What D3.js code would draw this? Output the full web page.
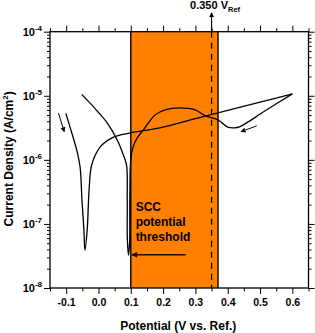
<!doctype html>
<html lang="en">
<head>
<meta charset="utf-8">
<title>Cyclic polarization</title>
<script src="https://cdn.jsdelivr.net/npm/d3@7/dist/d3.min.js"></script>
<style>
  body { margin: 0; background: #fff; }
  text { font-family: "Liberation Sans", Arial, sans-serif; font-weight: bold; fill: #000; }
  .domain { display: none; }
  .tick line { stroke: #000; stroke-width: 1; }
</style>
</head>
<body>
<div id="viz"></div>
<script>
// forward scan (potential V, current density A/cm2)
var fwdE = [-0.101, -0.088, -0.067, -0.057, -0.051, -0.045, -0.042, -0.035, -0.029, -0.021,
            0.005, 0.045, 0.098, 0.19, 0.30, 0.40, 0.50, 0.60];
var fwdI = [5.31e-6, 3.24e-6, 1.41e-6, 7.8e-7, 2.34e-7, 7.9e-8, 3.9e-8, 7.9e-8, 3.4e-7, 8.3e-7,
            1.58e-6, 2.24e-6, 2.63e-6, 3.16e-6, 4.39e-6, 5.9e-6, 7.94e-6, 1.07e-5];
// reverse scan
var revE = [0.60, 0.516, 0.438, 0.42, 0.40, 0.371, 0.33, 0.299, 0.252, 0.206, 0.175, 0.158, 0.138,
            0.12, 0.107, 0.100, 0.097, 0.0965, 0.093, 0.0895, 0.089, 0.087, 0.079, 0.058, 0.028, -0.016, -0.052];
var revI = [1.07e-5, 5.83e-6, 3.31e-6, 3.16e-6, 3.24e-6, 4.17e-6, 4.9e-6, 6.03e-6, 6.46e-6, 6.03e-6, 5.01e-6, 3.98e-6, 2.88e-6,
            2.2e-6, 1.58e-6, 1.0e-6, 2.34e-7, 5.5e-8, 3.24e-8, 5.5e-8, 2.34e-7, 8.3e-7, 1.12e-6, 2.04e-6, 3.72e-6, 6.76e-6, 1.05e-5];

var xMajor = [-0.1, 0.0, 0.1, 0.2, 0.3, 0.4, 0.5, 0.6];
var xMinor = [-0.15, -0.05, 0.05, 0.15, 0.25, 0.35, 0.45, 0.55, 0.65];
var yExp = [-8, -7, -6, -5, -4];

var bandE = [0.1, 0.37];       // SCC potential window
var refE = 0.35;               // 0.350 V_Ref
var sccArrowE = [0.27, 0.1];   // arrow from label to threshold
var sccArrowI = 3.3e-8;
var startArrow = [[-0.124, 5.4e-6], [-0.106, 2.75e-6]];
var revArrow = [[0.49, 3.4e-6], [0.441, 2.75e-6]];

var w = 315, h = 333;
var margin = {top: 31.7, right: 6.5, bottom: 45, left: 50};
var width = w - margin.left - margin.right,
    height = h - margin.top - margin.bottom;

var x = d3.scaleLinear().domain([-0.15, 0.65]).range([0, width]);
var y = d3.scaleLog().domain([1e-8, 1e-4]).range([height, 0]);

var yMinor = [];
yExp.slice(0, -1).forEach(function (e) {
  for (var k = 2; k <= 9; k++) yMinor.push(k * Math.pow(10, e));
});

var svg = d3.select("#viz").append("svg")
  .attr("width", w).attr("height", h);

var defs = svg.append("defs");
defs.append("marker").attr("id", "head")
  .attr("viewBox", "0 0 10 10").attr("refX", 9).attr("refY", 5)
  .attr("markerWidth", 5).attr("markerHeight", 5).attr("markerUnits", "userSpaceOnUse")
  .attr("orient", "auto")
  .append("path").attr("d", "M0,0L10,5L0,10z").attr("fill", "#000");
defs.append("marker").attr("id", "head2")
  .attr("viewBox", "0 0 10 10").attr("refX", 9).attr("refY", 5)
  .attr("markerWidth", 8).attr("markerHeight", 6).attr("markerUnits", "userSpaceOnUse")
  .attr("orient", "auto")
  .append("path").attr("d", "M0,0L10,5L0,10z").attr("fill", "#1a0d00");

var g = svg.append("g")
  .attr("transform", "translate(" + margin.left + "," + margin.top + ")");

// orange band
g.append("rect")
  .attr("x", x(bandE[0])).attr("y", 0)
  .attr("width", x(bandE[1]) - x(bandE[0])).attr("height", height)
  .attr("fill", "#ff8000");
g.selectAll(".bandEdge").data(bandE).enter().append("line")
  .attr("x1", function (d) { return x(d); }).attr("x2", function (d) { return x(d); })
  .attr("y1", 0).attr("y2", height)
  .attr("stroke", "#000").attr("stroke-width", 1.4);

// dashed reference line
g.append("line")
  .attr("x1", x(refE)).attr("x2", x(refE)).attr("y1", 0).attr("y2", height)
  .attr("stroke", "#000").attr("stroke-width", 1.3).attr("stroke-dasharray", "6,5");

// curves
var line = d3.line()
  .x(function (d) { return x(d[0]); })
  .y(function (d) { return y(d[1]); })
  .curve(d3.curveCatmullRom.alpha(0.5));

g.append("path").datum(d3.zip(fwdE, fwdI))
  .attr("d", line).attr("fill", "none").attr("stroke", "#000").attr("stroke-width", 1.3);
g.append("path").datum(d3.zip(revE, revI))
  .attr("d", line).attr("fill", "none").attr("stroke", "#000").attr("stroke-width", 1.3);

// scan arrows
[startArrow, revArrow].forEach(function (a) {
  g.append("line")
    .attr("x1", x(a[0][0])).attr("y1", y(a[0][1]))
    .attr("x2", x(a[1][0])).attr("y2", y(a[1][1]))
    .attr("stroke", "#000").attr("stroke-width", 1)
    .attr("marker-end", "url(#head)");
});

// SCC label + arrow
var lbl = g.append("text").attr("x", x(0.115)).attr("y", y(1.6e-7)).style("font-size", "12px");
["SCC", "potential", "threshold"].forEach(function (s, i) {
  lbl.append("tspan").attr("x", x(0.115)).attr("dy", i ? 15 : 0).text(s);
});
g.append("line")
  .attr("x1", x(sccArrowE[0])).attr("x2", x(sccArrowE[1]) + 1)
  .attr("y1", y(sccArrowI)).attr("y2", y(sccArrowI))
  .attr("stroke", "#1a0d00").attr("stroke-width", 1.6)
  .attr("marker-end", "url(#head2)");

// 0.350 V_Ref annotation
g.append("line")
  .attr("x1", x(refE)).attr("x2", x(refE)).attr("y1", 0).attr("y2", -19)
  .attr("stroke", "#000").attr("stroke-width", 1.2)
  .attr("marker-end", "url(#head)");
var refLbl = g.append("text").attr("x", x(refE) - 21.5).attr("y", -22.5).style("font-size", "11px");
refLbl.append("tspan").text("0.350 V");
refLbl.append("tspan").attr("dy", 3).style("font-size", "7.5px").text("Ref");

// axes
function axisG(axis, tr) {
  return g.append("g").attr("transform", tr).call(axis);
}
axisG(d3.axisBottom(x).tickValues(xMajor).tickSize(6).tickPadding(5)
  .tickFormat(function (d) { return d.toFixed(1); }), "translate(0," + height + ")")
  .selectAll("text").style("font-size", "10.5px");
axisG(d3.axisBottom(x).tickValues(xMinor).tickSize(3.5).tickFormat(""), "translate(0," + height + ")");
axisG(d3.axisTop(x).tickValues(xMajor).tickSize(6).tickFormat(""), "translate(0,0)");
axisG(d3.axisTop(x).tickValues(xMinor).tickSize(3.5).tickFormat(""), "translate(0,0)");
axisG(d3.axisLeft(y).tickValues(yExp.map(function (e) { return Math.pow(10, e); })).tickSize(6).tickFormat(""), "translate(0,0)");
axisG(d3.axisLeft(y).tickValues(yMinor).tickSize(3).tickFormat(""), "translate(0,0)");
axisG(d3.axisRight(y).tickValues(yExp.map(function (e) { return Math.pow(10, e); })).tickSize(6).tickFormat(""), "translate(" + width + ",0)");
axisG(d3.axisRight(y).tickValues(yMinor).tickSize(3).tickFormat(""), "translate(" + width + ",0)");
g.selectAll(".tick text").attr("font-family", null).attr("fill", "#000");

// y tick labels with superscripts
yExp.forEach(function (e) {
  var t = g.append("text").attr("text-anchor", "end")
    .attr("x", -8).attr("y", y(Math.pow(10, e)) + 4).style("font-size", "11px");
  t.append("tspan").text("10");
  t.append("tspan").attr("dy", -5).style("font-size", "8px").text("-" + Math.abs(e));
});

// frame
g.append("rect").attr("width", width).attr("height", height)
  .attr("fill", "none").attr("stroke", "#000").attr("stroke-width", 1.3);

// axis titles
svg.append("text").attr("text-anchor", "middle")
  .attr("x", margin.left + width / 2 - 1).attr("y", 330).style("font-size", "12px")
  .text("Potential (V vs. Ref.)");
var yt = svg.append("text").attr("text-anchor", "middle")
  .attr("transform", "translate(13," + (margin.top + height / 2 - 1) + ") rotate(-90)")
  .style("font-size", "12px");
yt.append("tspan").text("Current Density (A/cm");
yt.append("tspan").attr("dy", -5).style("font-size", "8px").text("2");
yt.append("tspan").attr("dy", 5).text(")");
</script>
</body>
</html>
